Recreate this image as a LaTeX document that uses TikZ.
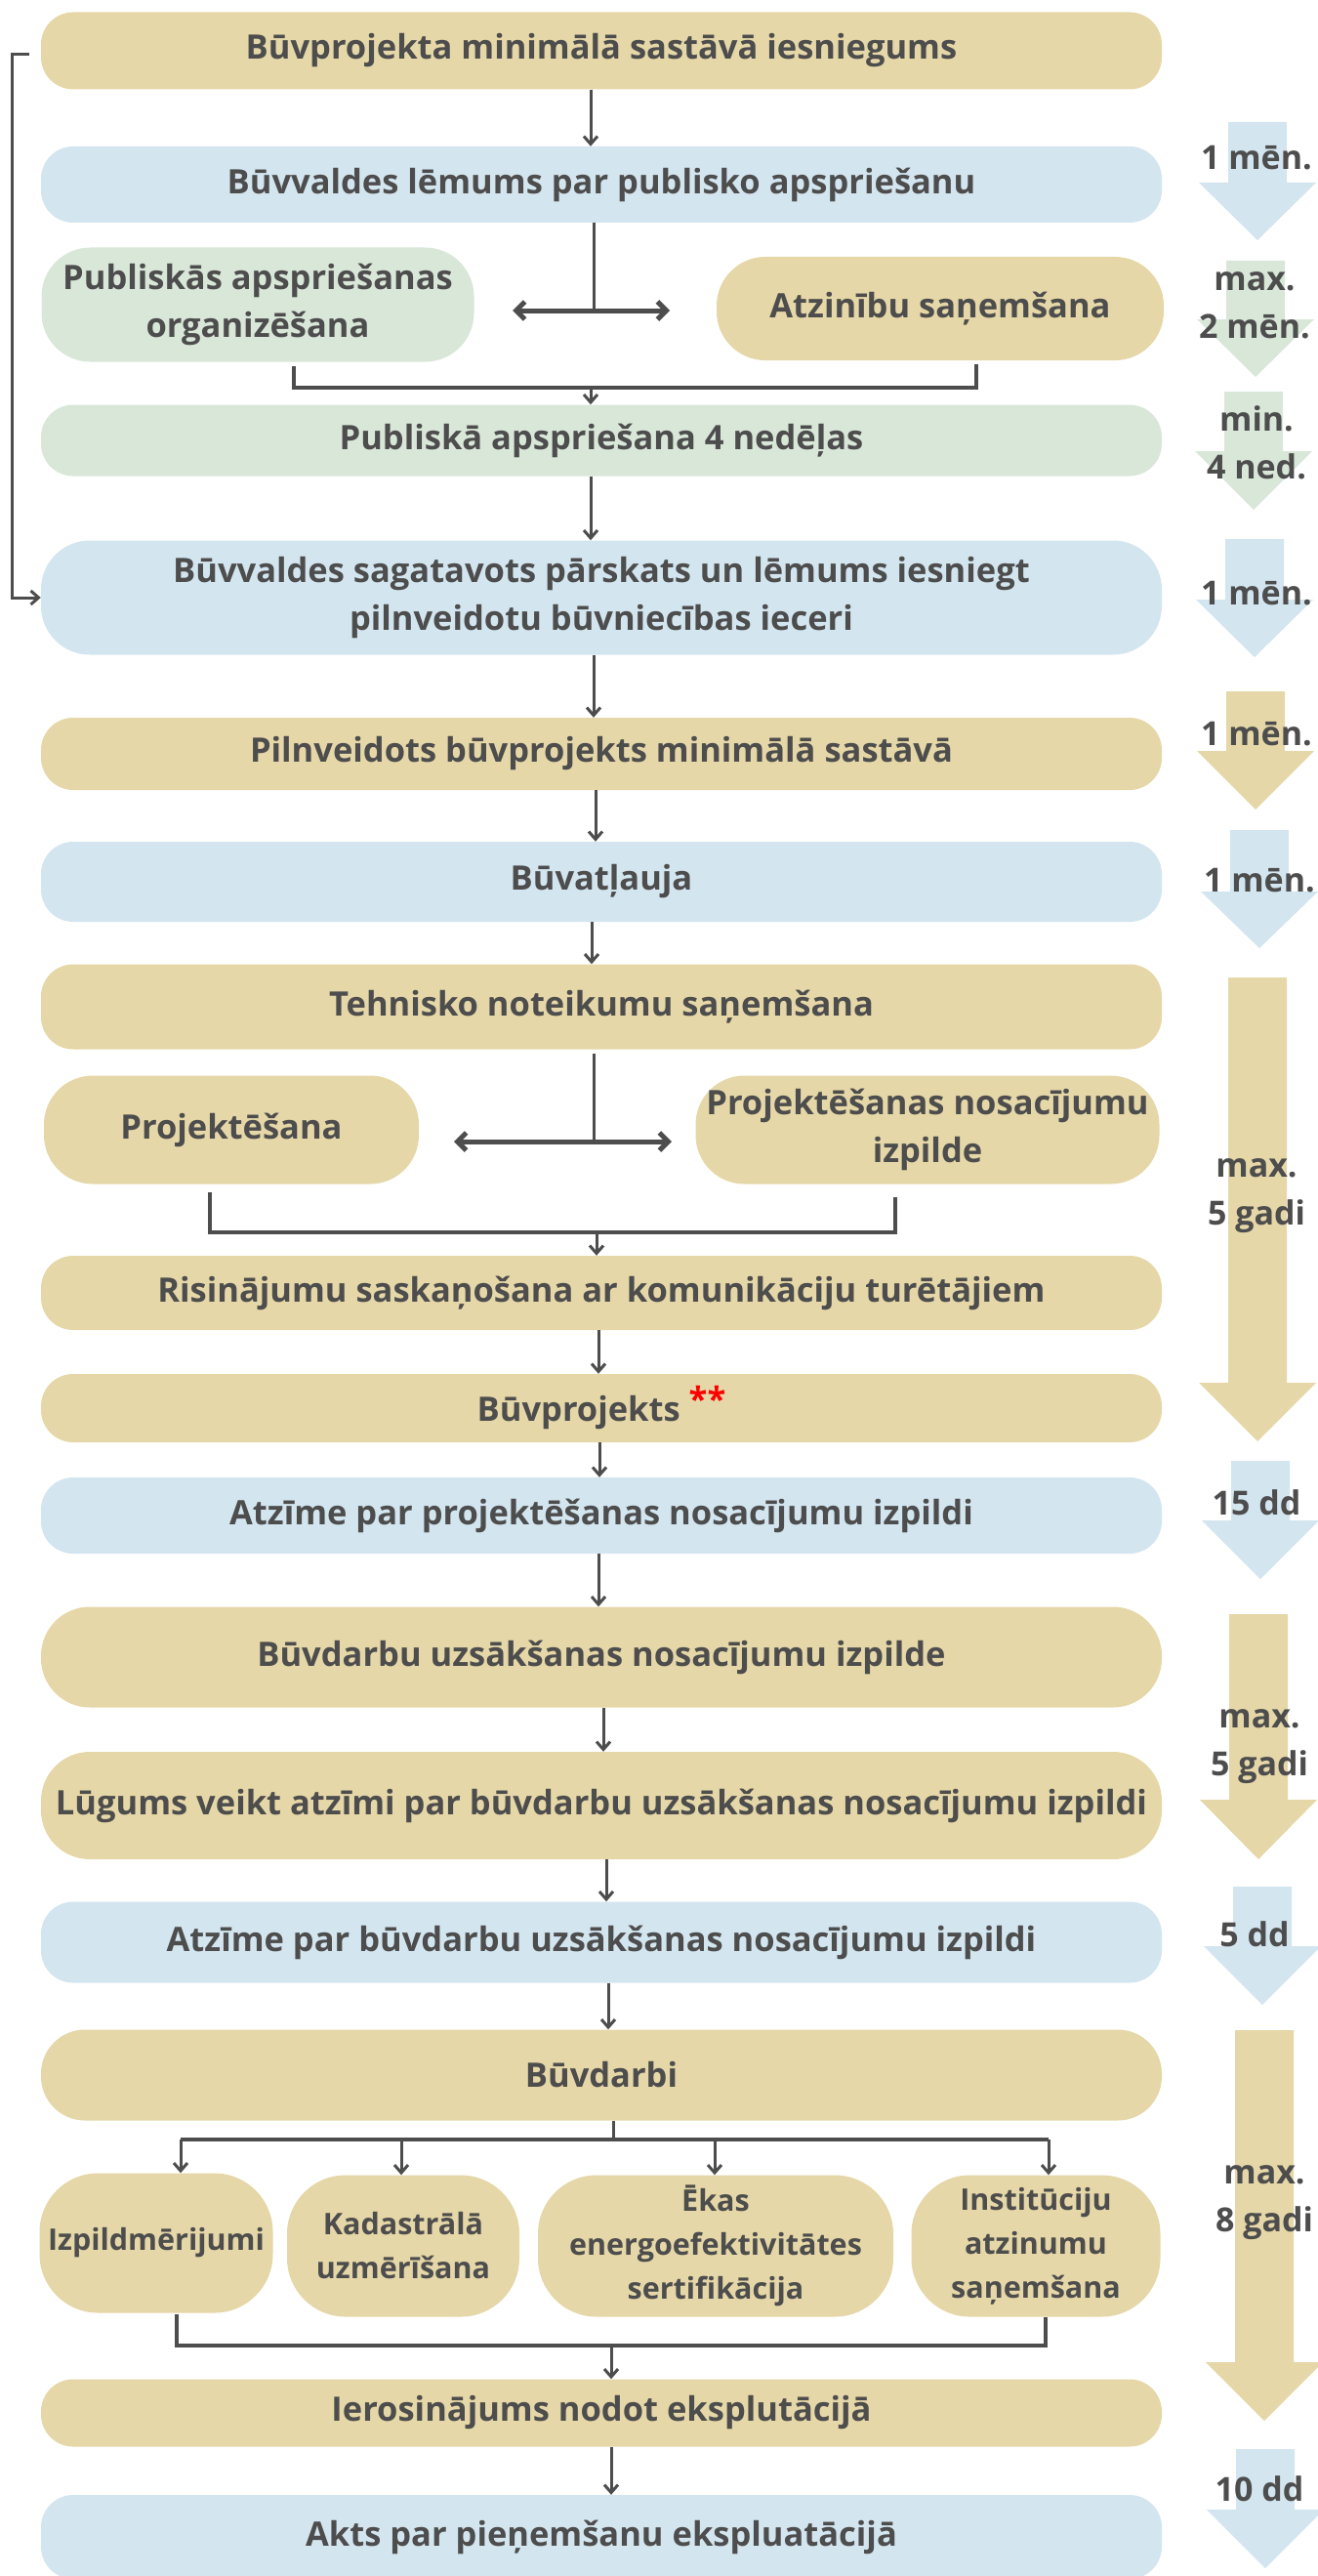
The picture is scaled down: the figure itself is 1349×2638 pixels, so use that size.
\documentclass[tikz,border=0pt]{standalone}
\usepackage{fontspec}
\setmainfont{Open Sans}
\usetikzlibrary{arrows.meta}
\definecolor{tan}{HTML}{E5D7A7}
\definecolor{sky}{HTML}{D3E5EF}
\definecolor{sage}{HTML}{D9E7D9}
\definecolor{ink}{HTML}{4D4D4D}

\begin{document}
\begin{tikzpicture}[x=1pt, y=-1pt,
	main/.style = {rectangle, rounded corners=33pt, inner sep=0pt, align=center, text=ink, font=\fontsize{34.5}{49}\selectfont\bfseries},
	wide/.style = {main, minimum width=1148pt},
	small/.style = {main, rounded corners=60pt, font=\fontsize{30.5}{45}\selectfont\bfseries},
	link/.style = {draw=ink, line width=3pt, -{Straight Barb[length=8pt,width=14pt]}},
	both/.style = {draw=ink, line width=5pt, {Straight Barb[length=9pt,width=18pt]}-{Straight Barb[length=9pt,width=18pt]}},
	bar/.style = {draw=ink, line width=4pt},
	time/.style = {text=ink, inner sep=0pt, align=center, font=\fontsize{34}{49}\selectfont\bfseries}]
	\useasboundingbox (0,0) rectangle (1349,2638);

	\foreach \cx/\top/\hd/\tip/\col in {1288/125/187/246/sky, 1286/267/327/386/sage, 1284/401/462/522/sage, 1285/552/614/673/sky, 1286/708/769/829/tan, 1290/850/913/971/sky, 1288/1001/1416/1476/tan, 1291/1496/1557/1617/sky, 1289/1653/1843/1904/tan, 1293/1932/1993/2053/sky, 1295/2079/2419/2479/tan, 1296/2508/2570/2630/sky}
		\fill[\col] (\cx-30,\top) -- (\cx+30,\top) -- (\cx+30,\hd) -- (\cx+60,\hd) -- (\cx,\tip) -- (\cx-60,\hd) -- (\cx-30,\hd) -- cycle;

	\node[time] (l1) at (1287,162) {1 mēn.};
	\node[time] (l2) at (1285,313) {max.\\2 mēn.};
	\node[time] (l3) at (1287,453) {min.\\4 ned.};
	\node[time] (l4) at (1287,608) {1 mēn.};
	\node[time] (l5) at (1287,752) {1 mēn.};
	\node[time] (l6) at (1290,902) {1 mēn.};
	\node[time] (l7) at (1287,1225) {max.\\5 gadi};
	\node[time] (l8) at (1287,1539) {15 dd};
	\node[time] (l9) at (1290,1789) {max.\\5 gadi};
	\node[time] (l10) at (1285,1981) {5 dd};
	\node[time] (l11) at (1295,2256) {max.\\8 gadi};
	\node[time] (l12) at (1290,2549) {10 dd};

	\node[wide, fill=tan, minimum height=79pt] (b1) at (616,52) {Būvprojekta minimālā sastāvā iesniegums};
	\node[wide, fill=sky, minimum height=78pt] (b2) at (616,189) {Būvvaldes lēmums par publisko apspriešanu};
	\node[main, fill=sage, rounded corners=50pt, minimum width=443pt, minimum height=117pt] (b3a) at (264,312) {Publiskās apspriešanas\\organizēšana};
	\node[main, fill=tan, rounded corners=50pt, minimum width=458pt, minimum height=106pt] (b3b) at (963,316) {Atzinību saņemšana};
	\node[wide, fill=sage, minimum height=73pt] (b4) at (616,451) {Publiskā apspriešana 4 nedēļas};
	\node[wide, fill=sky, rounded corners=50pt, minimum height=117pt] (b5) at (616,612) {Būvvaldes sagatavots pārskats un lēmums iesniegt\\pilnveidotu būvniecības ieceri};
	\node[wide, fill=tan, minimum height=74pt] (b6) at (616,772) {Pilnveidots būvprojekts minimālā sastāvā};
	\node[wide, fill=sky, minimum height=82pt] (b7) at (616,903) {Būvatļauja};
	\node[wide, fill=tan, minimum height=87pt] (b8) at (616,1031) {Tehnisko noteikumu saņemšana};
	\node[main, fill=tan, rounded corners=50pt, minimum width=384pt, minimum height=111pt] (b9a) at (237,1157) {Projektēšana};
	\node[main, fill=tan, rounded corners=50pt, minimum width=475pt, minimum height=111pt] (b9b) at (950,1157) {Projektēšanas nosacījumu\\izpilde};
	\node[wide, fill=tan, minimum height=76pt] (b10) at (616,1324) {Risinājumu saskaņošana ar komunikāciju turētājiem};
	\node[wide, fill=tan, minimum height=70pt] (b11) at (616,1442) {Būvprojekts \raisebox{10pt}{\textcolor{red}{**}}};
	\node[wide, fill=sky, minimum height=78pt] (b12) at (616,1552) {Atzīme par projektēšanas nosacījumu izpildi};
	\node[wide, fill=tan, rounded corners=50pt, minimum height=103pt] (b13) at (616,1697) {Būvdarbu uzsākšanas nosacījumu izpilde};
	\node[wide, fill=tan, rounded corners=50pt, minimum height=110pt] (b14) at (616,1849) {Lūgums veikt atzīmi par būvdarbu uzsākšanas nosacījumu izpildi};
	\node[wide, fill=sky, minimum height=83pt] (b15) at (616,1989) {Atzīme par būvdarbu uzsākšanas nosacījumu izpildi};
	\node[wide, fill=tan, rounded corners=45pt, minimum height=93pt] (b16) at (616,2125) {Būvdarbi};
	\node[small, fill=tan, minimum width=239pt, minimum height=143pt] (b17a) at (160,2297) {Izpildmērijumi};
	\node[small, fill=tan, minimum width=238pt, minimum height=145pt] (b17b) at (413,2300) {Kadastrālā\\uzmērīšana};
	\node[small, fill=tan, minimum width=364pt, minimum height=145pt] (b17c) at (733,2300) {Ēkas\\energoefektivitātes\\sertifikācija};
	\node[small, fill=tan, minimum width=255pt, minimum height=145pt] (b17d) at (1061,2300) {Institūciju\\atzinumu\\saņemšana};
	\node[wide, fill=tan, minimum height=69pt] (b18) at (616,2471) {Ierosinājums nodot eksplutācijā};
	\node[wide, fill=sky, minimum height=86pt] (b19) at (616,2598) {Akts par pieņemšanu ekspluatācijā};

	\foreach \a/\b/\dx in {b1/b2/-11, b4/b5/-11, b5/b6/-8, b6/b7/-6, b7/b8/-10, b10/b11/-3, b11/b12/-2, b12/b13/-3, b13/b14/2, b14/b15/5, b15/b16/7, b18/b19/10}
		\draw[link] ([xshift=\dx pt]\a.south) -- ([xshift=\dx pt]\b.north);

	\coordinate (s1) at (608,318);
	\coordinate (s1l) at (525,318);
	\coordinate (s1r) at (686,318);
	\draw[ink, line width=3pt] ([xshift=-8pt]b2.south) -- (s1);
	\draw[both] (s1l) -- (s1r);
	\coordinate (m1a) at (301,375);
	\coordinate (m1b) at (1000,373);
	\coordinate (m1) at (605,397);
	\draw[bar] (m1a) |- (m1b |- m1) -- (m1b);
	\draw[link] (m1) -- (m1 |- b4.north);

	\coordinate (s2) at (608,1169);
	\coordinate (s2l) at (465,1169);
	\coordinate (s2r) at (688,1169);
	\draw[ink, line width=3pt] ([xshift=-8pt,yshift=-4pt]b8.south) -- (s2);
	\draw[both] (s2l) -- (s2r);
	\coordinate (m2a) at (215,1221);
	\coordinate (m2b) at (917,1226);
	\coordinate (m2) at (611,1262);
	\draw[bar] (m2a) |- (m2b |- m2) -- (m2b);
	\draw[link] (m2) -- (m2 |- b10.north);

	\coordinate (s3) at (628,2191);
	\draw[ink, line width=3pt] ([xshift=12pt]b16.south) -- (s3);
	\draw[bar] (185,2191) -- (1074,2191);
	\foreach \n/\x [count=\i] in {b17a/185, b17b/411, b17c/732, b17d/1074} {
		\coordinate (t\i) at (\x,2191);
		\draw[link] (t\i) -- (t\i |- \n.north);
	}
	\coordinate (m3a) at (181,2370);
	\coordinate (m3b) at (1071,2373);
	\coordinate (m3) at (626,2402);
	\draw[bar] (m3a) |- (m3b |- m3) -- (m3b);
	\draw[link] (m3) -- (m3 |- b18.north);

	\draw[link] ([xshift=-12pt,yshift=-4pt]b1.west) -- ++(-17,0) |- (b5.west);
\end{tikzpicture}
\end{document}
